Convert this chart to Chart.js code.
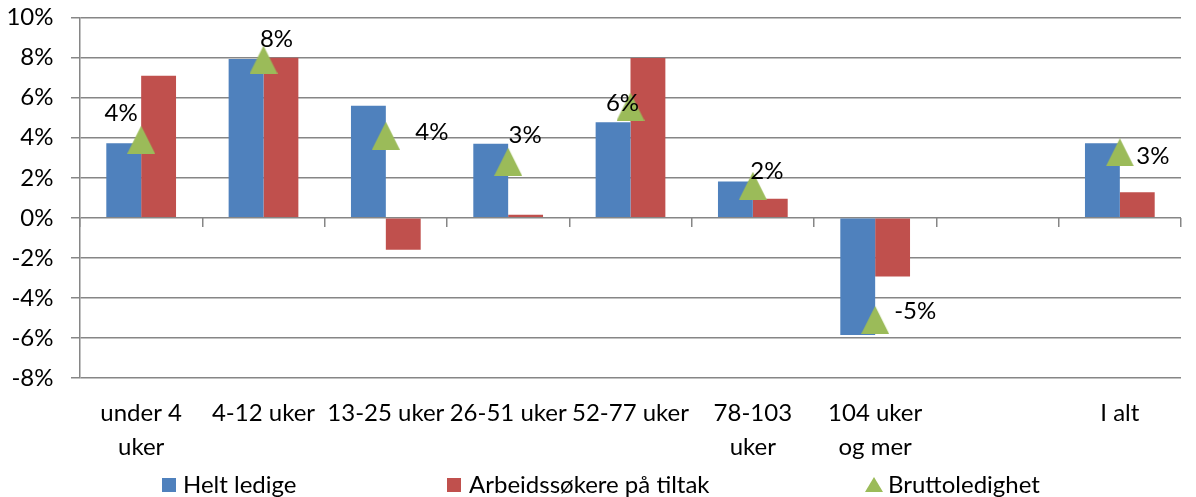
<!DOCTYPE html>
<html><head><meta charset="utf-8">
<script src="https://cdn.jsdelivr.net/npm/chart.js@4/dist/chart.umd.min.js"></script>
<style>html,body{margin:0;padding:0;background:#fff}#wrap{width:1196px;height:497px}</style>
</head><body>
<div id="wrap"><canvas id="c" width="1196" height="497"></canvas></div>
<script>
// ---- data ----
const categories = [['under 4','uker'], '4-12 uker', '13-25 uker', '26-51 uker', '52-77 uker', ['78-103','uker'], ['104 uker','og mer'], '', 'I alt'];
const heltLedige = [3.73, 7.93, 5.6, 3.7, 4.78, 1.82, -5.85, null, 3.73];
const tiltak = [7.1, 8.0, -1.6, 0.15, 7.98, 0.95, -2.93, null, 1.28];
const brutto = [3.9, 7.9, 4.1, 2.8, 5.55, 1.6, -5.1, null, 3.27];
const seriesNames = ['Helt ledige', 'Arbeidssøkere på tiltak', 'Bruttoledighet'];
const yTicks = [-8, -6, -4, -2, 0, 2, 4, 6, 8, 10];

// ---- style ----
const FONT = 'Lato';
const BLUE = '#4F81BD', RED = '#C0504D', GREEN = '#9BBB59', GRID = '#868686';
// data label offsets (px) relative to each triangle
const labelOffsets = [[-20,-26],[13,-20],[46,-3],[17,-27],[-8,-3],[14,-15],[40,-9],[0,0],[33,4]];
const legendX = [162, 447, 865];
const legendY = 485;

function triangle(w, h, color) {
  const c = document.createElement('canvas');
  c.width = w; c.height = h;
  const g = c.getContext('2d');
  g.fillStyle = color;
  g.beginPath(); g.moveTo(w/2, 0); g.lineTo(w, h); g.lineTo(0, h); g.closePath(); g.fill();
  return c;
}
const triBig = triangle(28, 28, GREEN);
const triSmall = triangle(18, 15, GREEN);

const labelPlugin = {
  id: 'bruttoLabels',
  afterDatasetsDraw(chart) {
    const ctx = chart.ctx;
    const meta = chart.getDatasetMeta(0);
    ctx.save();
    ctx.font = '24px ' + FONT;
    ctx.fillStyle = '#000';
    ctx.textAlign = 'center';
    ctx.textBaseline = 'middle';
    meta.data.forEach((pt, i) => {
      const v = brutto[i];
      if (v === null || v === undefined) return;
      const o = labelOffsets[i];
      ctx.fillText(Math.round(v) + '%', pt.x + o[0], pt.y + o[1]);
    });
    ctx.restore();
  }
};

const legendPlugin = {
  id: 'customLegend',
  afterDraw(chart) {
    const ctx = chart.ctx;
    ctx.save();
    ctx.font = '24px ' + FONT;
    ctx.textBaseline = 'middle';
    ctx.textAlign = 'left';
    ctx.fillStyle = BLUE; ctx.fillRect(legendX[0], legendY - 7, 14, 14);
    ctx.fillStyle = '#000'; ctx.fillText(seriesNames[0], legendX[0] + 21, legendY);
    ctx.fillStyle = RED; ctx.fillRect(legendX[1], legendY - 7, 14, 14);
    ctx.fillStyle = '#000'; ctx.fillText(seriesNames[1], legendX[1] + 22, legendY);
    ctx.drawImage(triSmall, legendX[2], legendY - 8);
    ctx.fillStyle = '#000'; ctx.fillText(seriesNames[2], legendX[2] + 23, legendY);
    ctx.restore();
  }
};

new Chart(document.getElementById('c'), {
  data: {
    labels: categories,
    datasets: [
      { type: 'line', label: seriesNames[2], data: brutto, showLine: false, pointStyle: triBig,
        pointRadius: 14, pointHoverRadius: 14, backgroundColor: GREEN, borderColor: GREEN, order: 0 },
      { type: 'bar', label: seriesNames[0], data: heltLedige, backgroundColor: BLUE, borderWidth: 0,
        categoryPercentage: 0.57, barPercentage: 1, order: 1 },
      { type: 'bar', label: seriesNames[1], data: tiltak, backgroundColor: RED, borderWidth: 0,
        categoryPercentage: 0.57, barPercentage: 1, order: 2 }
    ]
  },
  options: {
    responsive: false,
    animation: false,
    layout: { padding: { top: 0, right: 0, bottom: 0, left: 0 } },
    plugins: { legend: { display: false }, tooltip: { enabled: false } },
    scales: {
      x: {
        type: 'category',
        position: 'bottom',
        grid: { display: false, drawTicks: false },
        border: { display: false },
        ticks: { color: '#000', font: { family: FONT, size: 24, lineHeight: '34px' }, padding: 18,
                 autoSkip: false, maxRotation: 0, minRotation: 0 },
        afterFit(s) { s.height = 119; }
      },
      x2: {
        type: 'category',
        position: { y: 0 },
        offset: true,
        grid: { display: true, offset: true, drawOnChartArea: false, drawTicks: true, tickLength: 9,
                color: GRID, lineWidth: 1.5 },
        border: { display: false },
        ticks: { display: false }
      },
      y: {
        min: -8, max: 10,
        afterBuildTicks(s) { s.ticks = yTicks.map(v => ({ value: v })); },
        grid: { color: GRID, lineWidth: 1.5, tickLength: 9, drawTicks: true },
        border: { display: true, color: GRID, width: 1.5 },
        ticks: { color: '#000', font: { family: FONT, size: 24, lineHeight: 0.01 }, padding: 17.5,
                 callback: v => v + '%' },
        afterFit(s) { s.width = 80; }
      }
    }
  },
  plugins: [labelPlugin, legendPlugin]
});
</script>
</body></html>
